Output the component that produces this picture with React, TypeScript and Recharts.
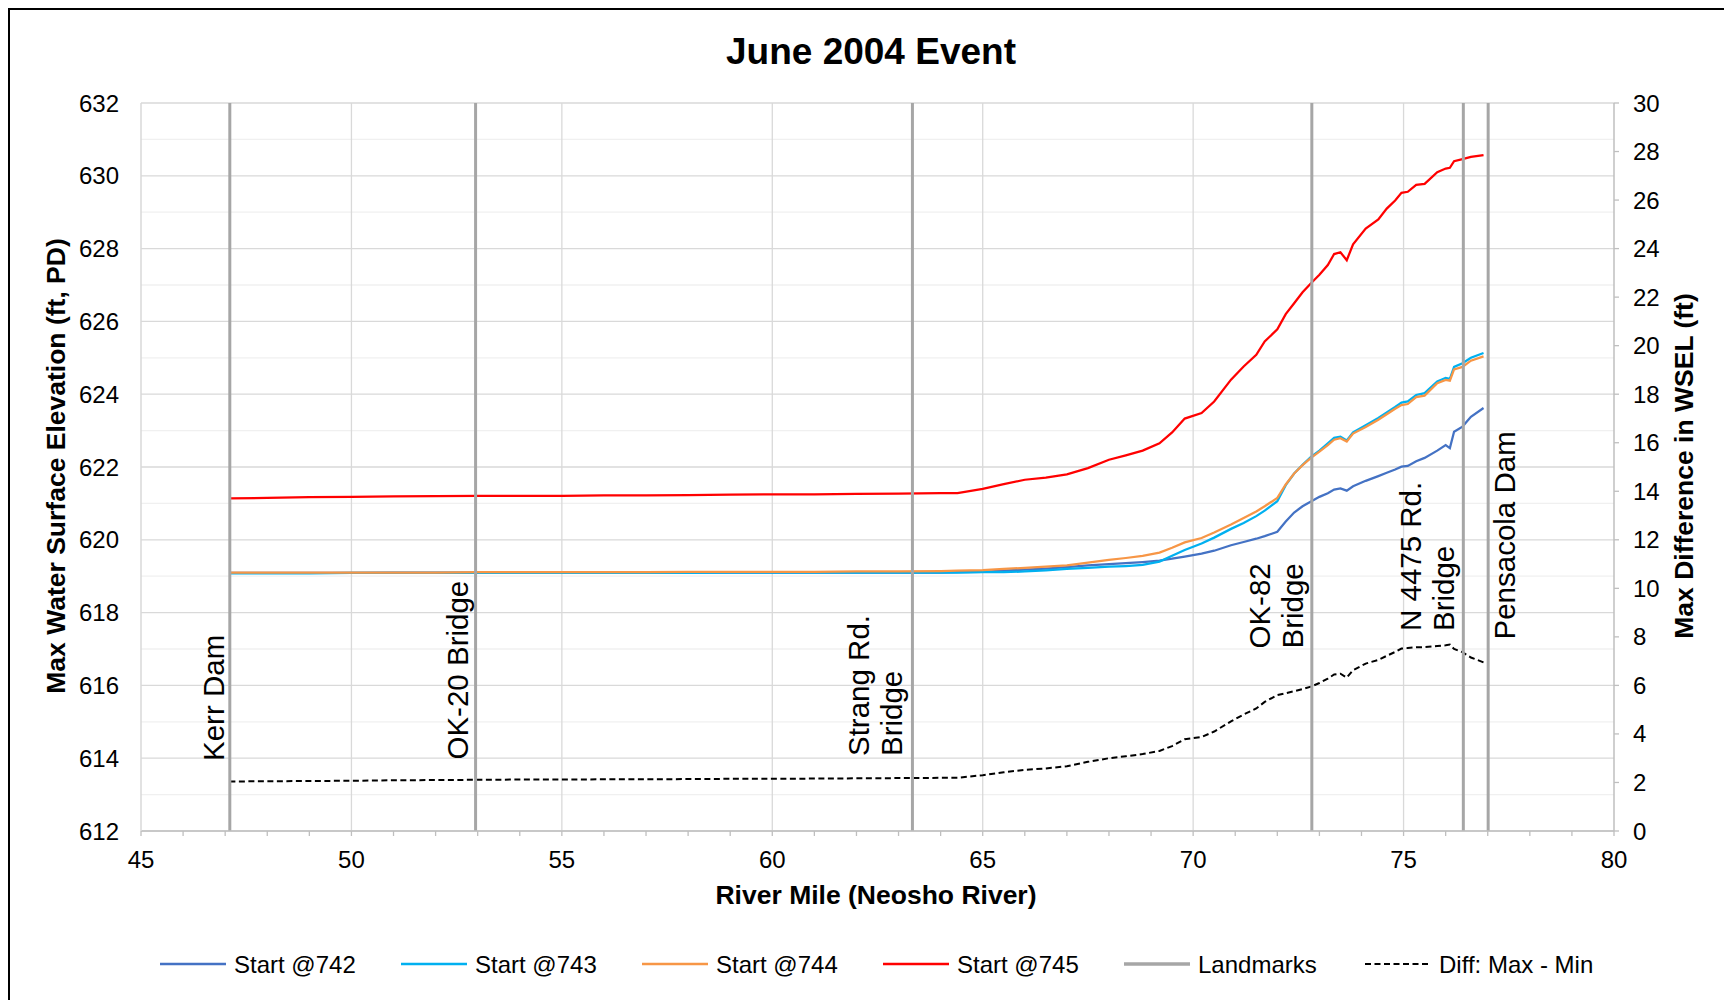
import React from 'react';
import { ComposedChart, Line, XAxis, YAxis, CartesianGrid, ReferenceLine } from 'recharts';

const FONT = '"Liberation Sans", Arial, Helvetica, sans-serif';

// ---------- data ----------
const miles = [
  47.1, 48, 49, 50, 51, 52, 53, 54, 55, 56, 57, 58, 59, 60, 61, 62, 63, 64,
  64.4, 65, 65.5, 66, 66.5, 67, 67.5, 68, 68.4, 68.8, 69.2, 69.5, 69.8, 70.2,
  70.5, 70.9, 71.2, 71.5, 71.7, 72, 72.2, 72.4, 72.6, 72.8, 73.0, 73.2, 73.35,
  73.5, 73.65, 73.8, 74.1, 74.4, 74.6, 74.8, 74.95, 75.1, 75.3, 75.5, 75.8,
  76.0, 76.1, 76.2, 76.4, 76.6, 76.9,
];

const start742 = [
  619.09, 619.09, 619.09, 619.09, 619.1, 619.1, 619.1, 619.1, 619.1, 619.1, 619.1, 619.1, 619.1, 619.1, 619.1, 619.1, 619.1, 619.1,
  619.11, 619.12, 619.15, 619.18, 619.21, 619.25, 619.3, 619.33, 619.36, 619.39, 619.43, 619.48, 619.54, 619.62,
  619.7, 619.85, 619.94, 620.03, 620.1, 620.22, 620.5, 620.75, 620.92, 621.05, 621.18, 621.28, 621.38,
  621.41, 621.35, 621.47, 621.62, 621.75, 621.84, 621.93, 622.01, 622.03, 622.16, 622.25, 622.45,
  622.6, 622.52, 622.97, 623.11, 623.38, 623.62,
];

const start743 = [
  619.08, 619.08, 619.08, 619.09, 619.09, 619.09, 619.09, 619.09, 619.09, 619.09, 619.09, 619.09, 619.1, 619.1, 619.1, 619.1, 619.1, 619.1,
  619.1, 619.11, 619.11, 619.13, 619.16, 619.2, 619.23, 619.26, 619.28, 619.31, 619.4, 619.56, 619.72, 619.9,
  620.06, 620.3, 620.46, 620.65, 620.8, 621.06, 621.5, 621.82, 622.06, 622.28, 622.45, 622.65, 622.8,
  622.83, 622.73, 622.95, 623.15, 623.35, 623.5, 623.65, 623.77, 623.8, 623.98, 624.03, 624.35,
  624.45, 624.42, 624.75, 624.85, 625.0, 625.13,
];

const start744 = [
  619.1, 619.1, 619.1, 619.1, 619.1, 619.1, 619.11, 619.11, 619.11, 619.11, 619.11, 619.12, 619.12, 619.12, 619.12, 619.13, 619.13, 619.14,
  619.15, 619.17, 619.2, 619.23, 619.26, 619.3, 619.37, 619.45, 619.5, 619.56, 619.65, 619.78, 619.93, 620.05,
  620.2, 620.42, 620.6, 620.78, 620.92, 621.15, 621.52, 621.82, 622.05, 622.25, 622.42, 622.6, 622.75,
  622.79, 622.7, 622.92, 623.1, 623.3, 623.45, 623.6, 623.7, 623.73, 623.92, 623.96, 624.3,
  624.39, 624.37, 624.68, 624.75, 624.92, 625.04,
];

const start745 = [
  621.14, 621.15, 621.17, 621.18, 621.19, 621.2, 621.21, 621.21, 621.21, 621.22, 621.22, 621.23, 621.24, 621.25, 621.25, 621.26, 621.27, 621.28,
  621.28, 621.4, 621.53, 621.65, 621.71, 621.8, 621.97, 622.2, 622.32, 622.45, 622.65, 622.95, 623.33, 623.48,
  623.8, 624.4, 624.76, 625.08, 625.45, 625.78, 626.2, 626.5, 626.8, 627.05, 627.28, 627.55, 627.85,
  627.9, 627.68, 628.12, 628.55, 628.8, 629.1, 629.32, 629.53, 629.56, 629.75, 629.78, 630.1,
  630.2, 630.22, 630.4, 630.46, 630.52, 630.57,
];

const diffMaxMin = [
  2.04, 2.05, 2.06, 2.07, 2.09, 2.1, 2.11, 2.12, 2.12, 2.13, 2.13, 2.14, 2.15, 2.15, 2.16, 2.17, 2.18, 2.19,
  2.19, 2.3, 2.42, 2.52, 2.58, 2.67, 2.85, 3.0, 3.08, 3.17, 3.3, 3.5, 3.78, 3.87,
  4.1, 4.52, 4.8, 5.05, 5.32, 5.6, 5.68, 5.76, 5.85, 5.95, 6.1, 6.28, 6.45,
  6.48, 6.32, 6.63, 6.9, 7.05, 7.22, 7.38, 7.52, 7.54, 7.57, 7.58, 7.62,
  7.65, 7.68, 7.5, 7.37, 7.15, 6.95,
];

const landmarkNames = ['Kerr Dam', 'OK-20 Bridge', 'Strang Rd.\nBridge', 'OK-82\nBridge', 'N 4475 Rd.\nBridge', 'Pensacola Dam'];
const landmarkMiles = [47.11, 52.95, 63.33, 72.82, 76.42, 77.01];

const xMajorTicks = [45, 50, 55, 60, 65, 70, 75, 80];
const leftTicks = [612, 614, 616, 618, 620, 622, 624, 626, 628, 630, 632];
const leftMinorTicks = [613, 615, 617, 619, 621, 623, 625, 627, 629, 631];
const rightTicks = [0, 2, 4, 6, 8, 10, 12, 14, 16, 18, 20, 22, 24, 26, 28, 30];

const seriesNames = ['Start @742', 'Start @743', 'Start @744', 'Start @745'];
const seriesKeys = ['s742', 's743', 's744', 's745'];
const seriesColors = ['#4472C4', '#00B0F0', '#F79646', '#FF0000'];

// ---------- layout / style (not data) ----------
const CHART_W = 1722;
const CHART_H = 990;
const LANDMARK_COLOR = '#a6a6a6';
const LABEL_FS = 29.5;
const LABEL_LH = 33.4;
// dx: baseline x of last line relative to the landmark line; up: distance of text start above plot bottom
const landmarkLabelLayout = [
  { dx: -5.5, up: 70 },
  { dx: -8, up: 71.5 },
  { dx: -10, up: 75 },
  { dx: -8.5, up: 182.5 },
  { dx: -9.3, up: 200 },
  { dx: 27, up: 191.5 },
];

const xMinorTicks: number[] = [];
for (let v = 45; v <= 80; v += 1) xMinorTicks.push(v);

const makeLandmarkLabel = (i: number) => (props: any) => {
  const vb = props.viewBox || {};
  const lines = landmarkNames[i].split('\n');
  const lay = landmarkLabelLayout[i];
  const lineX = vb.x;
  const bottom = vb.y + vb.height;
  const bx = lineX + lay.dx - LABEL_LH * (lines.length - 1);
  const by = bottom - lay.up;
  return (
    <text
      x={bx}
      y={by}
      transform={`rotate(-90 ${bx} ${by})`}
      fontSize={LABEL_FS}
      fontFamily={FONT}
      fill="#000"
      textAnchor="start"
    >
      {lines.map((ln, k) => (
        <tspan key={k} x={bx} y={by + k * LABEL_LH}>
          {ln}
        </tspan>
      ))}
    </text>
  );
};

const LeftTitle = (props: any) => {
  const vb = props.viewBox || {};
  const cx = vb.x + 55;
  const cy = vb.y + vb.height / 2 - 1;
  return (
    <text x={cx} y={cy} transform={`rotate(-90 ${cx} ${cy})`} textAnchor="middle" fontSize={26.5} fontWeight="bold" fontFamily={FONT} fill="#000">
      Max Water Surface Elevation (ft, PD)
    </text>
  );
};

const RightTitle = (props: any) => {
  const vb = props.viewBox || {};
  const cx = vb.x + 79;
  const cy = vb.y + vb.height / 2 - 1;
  return (
    <text x={cx} y={cy} transform={`rotate(-90 ${cx} ${cy})`} textAnchor="middle" fontSize={26.5} fontWeight="bold" fontFamily={FONT} fill="#000">
      Max Difference in WSEL (ft)
    </text>
  );
};

const XTitle = (props: any) => {
  const vb = props.viewBox || {};
  const cx = vb.x + vb.width / 2 - 1.5;
  const cy = vb.y + 72.6;
  return (
    <text x={cx} y={cy} textAnchor="middle" fontSize={26.5} fontWeight="bold" fontFamily={FONT} fill="#000">
      River Mile (Neosho River)
    </text>
  );
};

const legendItems = [
  ...seriesNames.map((n, i) => ({ name: n, color: seriesColors[i], width: 2.5, dash: undefined as string | undefined })),
  { name: 'Landmarks', color: LANDMARK_COLOR, width: 3.5, dash: undefined as string | undefined },
  { name: 'Diff: Max - Min', color: '#000', width: 2, dash: '6 3.5' },
];

export default function App() {
  const rows = miles.map((m, i) => ({
    mile: m,
    s742: start742[i],
    s743: start743[i],
    s744: start744[i],
    s745: start745[i],
    diff: diffMaxMin[i],
  }));

  return (
    <div
      style={{
        position: 'relative',
        width: 1724,
        height: 992,
        borderTop: '2px solid #000',
        borderLeft: '2px solid #000',
        boxSizing: 'border-box',
        background: '#fff',
        fontFamily: FONT,
      }}
    >
      <ComposedChart width={CHART_W} height={CHART_H} data={rows} margin={{ top: 93, right: 0, bottom: 0, left: 0 }}>
        <CartesianGrid yAxisId="left" vertical={false} stroke="#d9d9d9" strokeWidth={1.3} />
        {leftMinorTicks.map((v) => (
          <ReferenceLine key={'m' + v} yAxisId="left" y={v} stroke="#f0f0f0" strokeWidth={1.3} />
        ))}
        {xMajorTicks.slice(1, -1).map((v) => (
          <ReferenceLine key={'v' + v} yAxisId="left" x={v} stroke="#d9d9d9" strokeWidth={1.3} />
        ))}
        <XAxis
          dataKey="mile"
          type="number"
          domain={[45, 80]}
          ticks={xMinorTicks}
          interval={0}
          tickFormatter={(v: number) => (xMajorTicks.includes(v) ? String(v) : '')}
          tick={{ fontSize: 24, fill: '#000', fontFamily: FONT }}
          tickSize={5}
          tickMargin={15}
          tickLine={{ stroke: '#bfbfbf', strokeWidth: 1.3 }}
          axisLine={{ stroke: '#bfbfbf', strokeWidth: 1.5 }}
          height={169}
          label={<XTitle />}
        />
        <YAxis
          yAxisId="left"
          domain={[612, 632]}
          ticks={leftTicks}
          interval={0}
          width={131}
          tickLine={false}
          tickSize={0}
          tickMargin={22}
          tick={{ fontSize: 24, fill: '#000', fontFamily: FONT }}
          axisLine={{ stroke: '#d9d9d9', strokeWidth: 1.5 }}
          label={<LeftTitle />}
        />
        <YAxis
          yAxisId="right"
          orientation="right"
          domain={[0, 30]}
          ticks={rightTicks}
          interval={0}
          width={118}
          tickSize={5}
          tickMargin={14}
          tick={{ fontSize: 24, fill: '#000', fontFamily: FONT }}
          tickLine={{ stroke: '#bfbfbf', strokeWidth: 1.3 }}
          axisLine={{ stroke: '#bfbfbf', strokeWidth: 1.5 }}
          label={<RightTitle />}
        />
        {seriesKeys.map((k, i) => (
          <Line
            key={k}
            yAxisId="left"
            type="linear"
            dataKey={k}
            name={seriesNames[i]}
            stroke={seriesColors[i]}
            strokeWidth={2.25}
            dot={false}
            activeDot={false}
            isAnimationActive={false}
          />
        ))}
        <Line
          yAxisId="right"
          type="linear"
          dataKey="diff"
          name="Diff: Max - Min"
          stroke="#000"
          strokeWidth={2}
          strokeDasharray="6 3.5"
          dot={false}
          activeDot={false}
          isAnimationActive={false}
        />
        {landmarkMiles.map((m, i) => (
          <ReferenceLine
            key={'lm' + i}
            yAxisId="left"
            x={m}
            stroke={LANDMARK_COLOR}
            strokeWidth={3}
            label={makeLandmarkLabel(i)}
          />
        ))}
      </ComposedChart>

      <svg
        width={CHART_W}
        height={CHART_H}
        style={{ position: 'absolute', left: 0, top: 0, pointerEvents: 'none', zIndex: 5 }}
      >
        <text x={861} y={54} textAnchor="middle" fontSize={37} fontWeight="bold" fontFamily={FONT} fill="#000">
          June 2004 Event
        </text>
        {legendItems.map((it, i) => {
          const x0 = 150 + i * 241;
          const y = 954;
          return (
            <g key={it.name}>
              <line x1={x0} y1={y} x2={x0 + 66} y2={y} stroke={it.color} strokeWidth={it.width} strokeDasharray={it.dash} />
              <text x={x0 + 74} y={y + 8.6} fontSize={24} fontFamily={FONT} fill="#000">
                {it.name}
              </text>
            </g>
          );
        })}
      </svg>
    </div>
  );
}
